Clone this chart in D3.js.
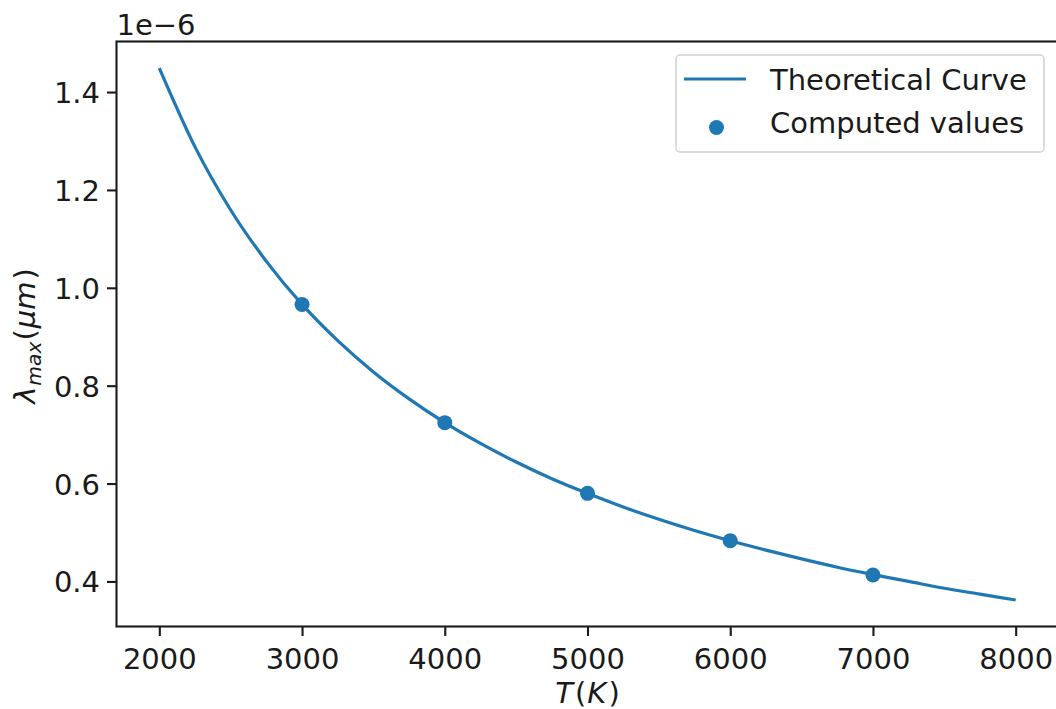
<!DOCTYPE html>
<html><head><meta charset="utf-8">
<script src="https://cdn.jsdelivr.net/npm/d3@7"></script>
<style>
html,body{margin:0;padding:0;background:#fff;overflow:hidden}
text{font-family:"DejaVu Sans",sans-serif;fill:#1a1a1a}
</style></head>
<body>
<svg id="chart" width="1056" height="709"></svg>
<script>
// Theoretical curve (λ in units of 1e-6)
const curveT = [2000,2250,2500,2750,3000,3250,3500,3750,4000,4250,4500,4750,5000,5250,5500,5750,6000,6250,6500,6750,7000,7250,7500,7750,8000];
const curveL = [1.449,1.288,1.159,1.054,0.966,0.892,0.828,0.773,0.7245,0.682,0.644,0.610,0.580,0.552,0.527,0.504,0.483,0.464,0.446,0.429,0.414,0.400,0.386,0.374,0.362];
// Computed values
const pointT = [3000,4000,5000,6000,7000];
const pointL = [0.966,0.7245,0.580,0.483,0.413];
// Ticks
const xTicks = [2000,3000,4000,5000,6000,7000,8000];
const yTicks = [0.4,0.6,0.8,1.0,1.2,1.4];
const seriesNames = ["Theoretical Curve","Computed values"];

const color = "#1f77b4";
const fs = 29;
const svg = d3.select("#chart");
const L = 116.5, R = 1058.5, T = 41.5, B = 626.5;

const x = d3.scaleLinear().domain([1700, 8300]).range([L, R]);
const yMin = 0.3079, yMax = 1.5033;
const y = d3.scaleLinear().domain([yMin, yMax]).range([B, T]);

// line
const line = d3.line().x((d,i)=>x(curveT[i])).y(d=>y(d)).curve(d3.curveMonotoneX);
svg.append("path").attr("d", line(curveL)).attr("fill","none")
  .attr("stroke",color).attr("stroke-width",3.2).attr("stroke-linecap","butt");

// points
svg.selectAll("circle.pt").data(pointL).enter().append("circle").attr("class","pt")
  .attr("cx",(d,i)=>x(pointT[i])).attr("cy",d=>y(d)).attr("r",7.5).attr("fill",color);

// axes
const xAxis = d3.axisBottom(x).tickValues(xTicks).tickFormat(d3.format("d")).tickSize(9.5).tickPadding(6);
const gx = svg.append("g").attr("transform",`translate(0,${B})`).call(xAxis);
const yAxis = d3.axisLeft(y).tickValues(yTicks).tickFormat(d3.format(".1f")).tickSize(9.5).tickPadding(7);
const gy = svg.append("g").attr("transform",`translate(${L},0)`).call(yAxis);
[gx,gy].forEach(g=>{
  g.select(".domain").remove();
  g.selectAll(".tick line").attr("stroke","#1a1a1a").attr("stroke-width",2.1);
  g.selectAll(".tick text").attr("font-size",fs).attr("font-family","DejaVu Sans").attr("fill","#1a1a1a");
});
gx.selectAll(".tick text").attr("dy","0.92em");
gy.selectAll(".tick text").attr("dy","0.36em");

// spines
svg.append("rect").attr("x",L).attr("y",T).attr("width",R-L).attr("height",B-T)
  .attr("fill","none").attr("stroke","#1a1a1a").attr("stroke-width",2.1);

// offset text
svg.append("text").attr("x",L).attr("y",35).attr("font-size",fs).text("1e\u22126");

// x label
const xl = svg.append("text").attr("x",(L+R)/2).attr("y",703).attr("text-anchor","middle").attr("font-size",fs);
xl.append("tspan").attr("font-style","italic").text("T");
xl.append("tspan").attr("dx",2).text("(");
xl.append("tspan").attr("dx",1).attr("font-style","italic").text("K");
xl.append("tspan").attr("dx",2).text(")");

// y label
const yl = svg.append("text").attr("transform",`translate(35,${(T+B)/2 + 2}) rotate(-90)`)
  .attr("text-anchor","middle").attr("font-size",fs);
yl.append("tspan").attr("font-style","italic").text("\u03bb");
yl.append("tspan").attr("font-style","italic").attr("font-size",fs*0.7).attr("dx",1).attr("dy",6).text("max");
yl.append("tspan").attr("dx",1).attr("dy",-6).text("(");
yl.append("tspan").attr("dx",1).attr("font-style","italic").text("\u03bcm");
yl.append("tspan").attr("dx",2).text(")");

// legend
const lg = svg.append("g");
lg.append("rect").attr("x",676).attr("y",55).attr("width",368).attr("height",97).attr("rx",4)
  .attr("fill","#fff").attr("fill-opacity",0.8).attr("stroke","#d0d0d0").attr("stroke-width",1.5);
lg.append("line").attr("x1",684).attr("x2",746).attr("y1",79).attr("y2",79)
  .attr("stroke",color).attr("stroke-width",3.2);
lg.append("circle").attr("cx",716.5).attr("cy",127.5).attr("r",7.5).attr("fill",color);
lg.append("text").attr("x",770).attr("y",90).attr("font-size",fs).text(seriesNames[0]);
lg.append("text").attr("x",770).attr("y",133).attr("font-size",fs).text(seriesNames[1]);
</script>
</body></html>
